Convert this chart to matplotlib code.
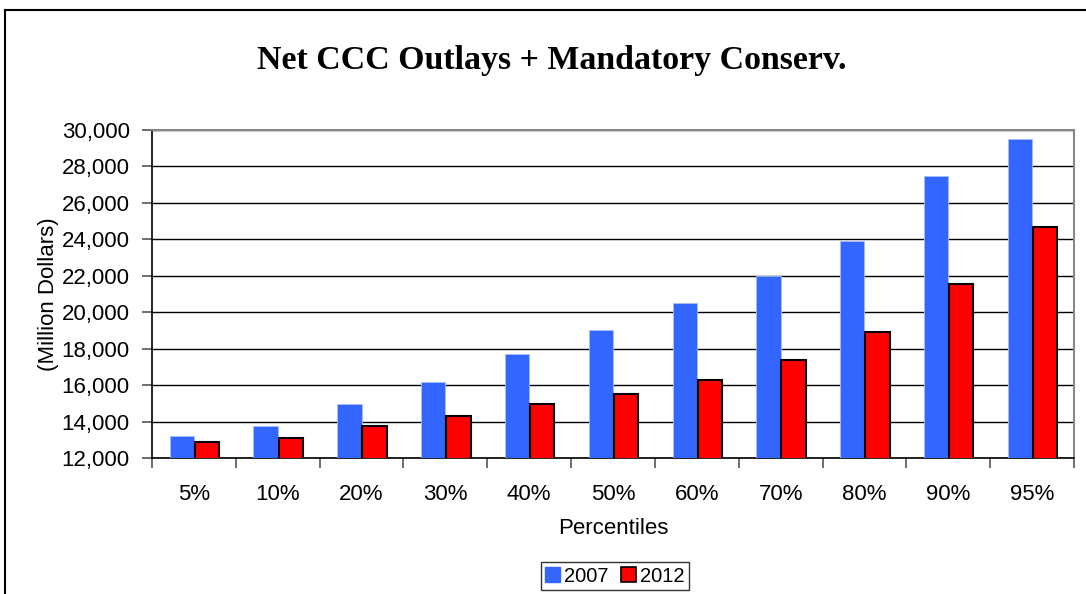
import matplotlib
matplotlib.use("Agg")
import matplotlib.pyplot as plt
from matplotlib.lines import Line2D
import numpy as np

categories = ["5%", "10%", "20%", "30%", "40%", "50%", "60%", "70%", "80%", "90%", "95%"]
values_2007 = [13200, 13750, 14950, 16150, 17700, 19000, 20500, 22000, 23900, 27500, 29500]
values_2012 = [12900, 13100, 13750, 14300, 14950, 15500, 16300, 17400, 18900, 21550, 24700]
yticks = [12000, 14000, 16000, 18000, 20000, 22000, 24000, 26000, 28000, 30000]

fig = plt.figure(figsize=(10.86, 5.94), dpi=100)
ax = fig.add_axes([152/1086, 1-458/594, 922/1086, 328/594])

x = np.arange(len(categories))
w = 0.29
ax.bar(x - 0.145, values_2007, width=w, color="#3366FF", edgecolor="#AABBFF",
       linewidth=0.6, label="2007", zorder=3)
ax.bar(x + 0.155, values_2012, width=w, color="#FF0000", edgecolor="black",
       linewidth=1.5, label="2012", zorder=3)

ax.set_xlim(-0.5, len(categories) - 0.5)
ax.set_ylim(12000, 30000)
ax.set_yticks(yticks)
ax.set_yticklabels([f"{v:,}" for v in yticks])
ax.yaxis.grid(True, color="black", linewidth=1, zorder=0)
ax.set_axisbelow(True)

ax.set_xticks(x)
ax.set_xticklabels(categories)
ax.set_xticks(np.arange(-0.5, len(categories)), minor=True)
ax.tick_params(axis="x", which="major", length=0, pad=19, labelsize=16)
ax.tick_params(axis="x", which="minor", length=7, width=1.2, color="#555555", direction="out")
ax.tick_params(axis="y", length=7, width=1.2, color="#555555", labelsize=16, pad=9)

for s in ["left", "bottom"]:
    ax.spines[s].set_color("black")
    ax.spines[s].set_linewidth(1.2)
for s in ["top", "right"]:
    ax.spines[s].set_color("#888888")
    ax.spines[s].set_linewidth(1.5)

for lbl in ax.get_xticklabels() + ax.get_yticklabels():
    lbl.set_family("Liberation Sans")

ax.set_xlabel("Percentiles", fontsize=16, family="Liberation Sans", labelpad=9)
ax.set_ylabel("(Million Dollars)", fontsize=16, family="Liberation Sans", labelpad=2)

fig.text(552/1086, 1-60/594, "Net CCC Outlays + Mandatory Conserv.", ha="center", va="center",
         fontsize=24.4, fontweight="bold", family="Liberation Serif")

handles = [plt.Rectangle((0, 0), 1, 1, facecolor="#3366FF", edgecolor="#3366FF"),
           plt.Rectangle((0, 0), 1, 1, facecolor="#FF0000", edgecolor="black", linewidth=1.2)]
leg = fig.legend(handles, ["2007", "2012"], loc="center", bbox_to_anchor=(615/1086, 1-576/594),
                 ncol=2, frameon=True, fancybox=False, edgecolor="black",
                 prop={"family": "Liberation Sans", "size": 14.5},
                 handlelength=0.75, handleheight=0.75, handletextpad=0.2, columnspacing=0.6,
                 borderpad=0.2, borderaxespad=0)
leg.get_frame().set_linewidth(1.0)

# outer border lines (left and top)
fig.add_artist(Line2D([5/1086, 5/1086], [0, 1-10/594], color="black", linewidth=1.5, transform=fig.transFigure))
fig.add_artist(Line2D([5/1086, 1], [1-10/594, 1-10/594], color="black", linewidth=1.5, transform=fig.transFigure))

fig.savefig("out.png", dpi=100)
